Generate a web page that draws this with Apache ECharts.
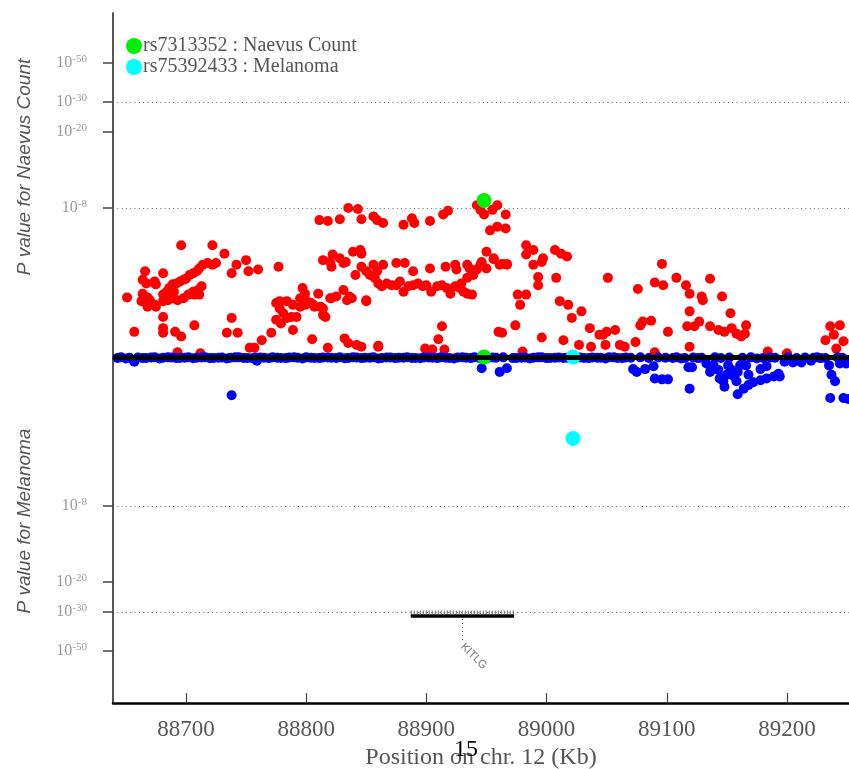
<!DOCTYPE html>
<html><head><meta charset="utf-8">
<script src="https://cdn.jsdelivr.net/npm/echarts@6/dist/echarts.min.js"></script>
<style>html,body{margin:0;padding:0;background:#fff}#c{width:849px;height:769px}</style>
</head><body><div id="c"></div>
<script>
// ---------- data ----------
const xTicks = [88700, 88800, 88900, 89000, 89100, 89200];
const yTickExponents = [8, 20, 30, 50];      // tick labels 10^-e
const gridExponents = [8, 30];               // dotted reference lines
const leadSnps = ['rs7313352', 'rs75392433'];
const leadTraits = ['Naevus Count', 'Melanoma'];
const leadPos = [88948, 89022];
const leadNaevusLogP = [8.4, 0.0];
const leadMelanomaLogP = [0.0, 4.37];
const geneNames = ['KITLG'];
const geneStart = [88887];
const geneEnd = [88973];

// [position Kb, -log10 P] for Naevus count (upper panel)
const naevusPoints = [
[88651,3.2],[88657,1.35],[88666,4.6],[88664,4.15],[88667,3.95],[88674,4.05],[88664,3.4],[88670,3.05],[88674,2.8],[88668,2.7],
[88663,3.0],[88673,4.0],[88675,3.9],[88668,3.2],[88675,2.7],[88681,4.5],[88681,2.15],[88681,1.55],[88681,1.3],[88691,1.35],
[88696,1.1],[88696,6.0],[88681,3.35],[88684,3.5],[88686,3.7],[88689,3.9],[88692,3.95],[88695,4.05],[88698,4.15],[88700,4.2],
[88703,4.4],[88706,4.5],[88709,4.6],[88711,4.75],[88714,4.95],[88718,5.05],[88722,4.95],[88725,5.05],[88681,3.0],[88685,3.05],
[88689,3.15],[88693,3.05],[88698,3.15],[88702,3.35],[88706,3.5],[88710,3.6],[88713,3.8],[88707,3.35],[88711,3.35],[88690,3.5],
[88722,6.0],[88732,5.55],[88707,1.7],[88738,4.5],[88742,4.95],[88750,5.2],[88752,4.6],[88760,4.7],[88738,2.1],[88734,1.3],
[88743,1.3],[88763,0.9],[88771,1.3],[88777,4.85],[88753,0.5],[88757,0.5],[88693,0.25],[88712,0.2],
[88775,2.9],[88778,2.6],[88781,2.35],[88784,2.1],[88788,2.15],[88789,1.45],[88795,2.7],[88797,3.7],[88799,3.4],[88800,3.05],
[88804,2.9],[88807,2.7],[88810,3.4],[88812,2.7],[88814,2.25],[88816,2.15],[88820,3.15],[88825,3.25],[88831,3.6],[88834,3.05],
[88836,3.25],[88850,3.05],[88778,3.0],[88784,3.0],[88789,2.8],[88795,3.15],[88806,2.8],[88814,2.6],[88775,2.0],[88779,1.8],
[88792,2.15],[88799,2.8],[88832,1.0],[88835,0.75],[88842,0.65],[88860,0.6],[88899,0.45],[88805,0.95],[88818,0.5],[88821,3.15],
[88838,3.15],
[88811,7.35],[88818,7.3],[88828,7.4],[88835,8.0],[88843,7.95],[88846,7.4],[88856,7.55],[88859,7.35],[88864,7.2],[88881,7.1],
[88888,7.45],[88890,7.2],[88903,7.3],[88914,7.65],[88918,7.85],
[88814,5.2],[88820,5.1],[88822,5.5],[88828,5.3],[88833,5.1],[88839,5.65],[88845,5.75],[88841,4.4],[88821,4.85],[88831,5.05],
[88846,5.55],[88846,4.85],[88850,4.6],[88856,4.95],[88859,4.6],[88864,4.95],
[88853,4.4],[88857,4.25],[88860,3.95],[88863,3.8],[88867,3.95],[88871,3.85],[88875,3.85],[88878,4.05],[88881,3.5],[88885,3.8],
[88889,3.85],[88893,3.95],[88897,3.8],[88900,3.85],[88904,3.5],[88909,3.8],[88913,3.85],[88917,3.7],[88920,3.4],[88924,3.8],
[88928,3.7],[88931,3.5],[88934,3.4],[88938,3.35],[88929,3.95],[88934,4.25],[88939,4.4],[88942,4.7],[88945,4.95],[88946,5.1],
[88950,5.65],[88956,5.3],[88961,4.95],[88967,4.95],[88950,4.75],
[88875,5.05],[88882,5.05],[88889,4.6],[88903,4.75],[88916,4.85],[88924,4.95],[88925,4.7],[88934,4.95],[88936,4.75],[88850,3.0],
[88913,1.65],[88910,0.95],[88905,0.4],[88915,0.4],[88860,0.55],[88846,0.55],
[88942,8.15],[88945,7.9],[88948,7.65],[88955,7.9],[88959,8.15],[88966,7.65],[88953,6.8],[88959,7.0],[88966,6.9],[88956,5.25],
[88963,5.0],[88967,5.0],
[88983,6.0],[88989,5.75],[88983,5.5],[88997,5.3],[88996,5.1],[88989,4.95],[89007,5.75],[89012,5.55],[89017,5.4],[88993,4.3],
[88993,3.85],[89008,4.25],[88976,3.35],[88983,3.35],[88978,2.8],[89011,3.0],[89018,2.8],[89029,2.45],[89021,2.1],[88974,1.7],
[88960,1.35],[88963,1.3],[88996,1.05],[89014,0.9],[89036,1.55],[89044,1.2],[89050,1.35],[89027,0.65],[89037,0.55],[89051,4.25],
[89047,1.2],[89057,1.45],[89049,0.65],[89061,0.65],[89065,0.55],[89074,0.8],[89076,3.65],[89090,4.0],[89097,3.85],[89096,5.0],
[89108,4.25],[89116,3.85],[89119,3.4],[89129,3.25],[89130,3.05],[89136,4.2],[89146,3.25],[89153,2.35],[89119,2.45],[89080,1.9],
[89087,1.95],[89078,1.7],[89101,1.35],[89117,1.65],[89123,1.65],[89127,1.9],[89119,0.55],[89136,1.65],[89143,1.45],[89148,1.35],
[89154,1.55],[89158,1.25],[89162,1.1],[89166,1.7],[89165,1.25],[89184,0.3],[89236,1.65],[89244,1.7],[89239,1.2],[89232,0.9],
[89247,0.85],[89241,0.45],[88980,0.3],[89090,0.25],[89200,0.2]
];

// [position Kb, -log10 P] for Melanoma (lower panel)
const melanomaPoints = [
[88643,0.05],[88650,0.08],[88657,0.25],[88664,0.06],[88671,0.03],[88678,0.08],[88685,0.02],[88692,0.06],[88699,0.04],[88706,0.07],
[88713,0.03],[88720,0.06],[88727,0.04],[88734,0.08],[88738,2.05],[88741,0.02],[88748,0.05],[88755,0.07],[88759,0.2],[88762,0.03],
[88769,0.07],[88776,0.04],[88783,0.06],[88790,0.02],[88797,0.08],[88804,0.04],[88811,0.06],[88818,0.03],[88825,0.05],[88832,0.07],
[88839,0.02],[88846,0.06],[88853,0.04],[88860,0.08],[88867,0.03],[88874,0.06],[88881,0.04],[88888,0.05],[88895,0.07],[88902,0.03],
[88909,0.06],[88916,0.04],[88923,0.08],[88930,0.02],[88937,0.06],[88946,0.6],[88951,0.05],[88961,0.8],[88967,0.6],[88972,0.06],
[88979,0.04],[88986,0.08],[88993,0.02],[89000,0.06],[89007,0.04],[89014,0.05],[89028,0.03],[89035,0.06],[89042,0.04],[89049,0.08],
[89056,0.02],[89063,0.06],[89072,0.65],[89075,0.8],[89082,0.65],[89089,0.5],[89090,1.15],[89096,1.2],[89101,1.2],[89105,0.05],
[89112,0.08],[89118,0.55],[89121,0.55],[89119,1.7],[89126,0.06],[89133,0.35],[89136,0.8],[89139,0.45],[89143,0.7],[89144,1.15],
[89147,1.3],[89148,1.6],[89150,0.95],[89151,0.45],[89154,0.7],[89156,1.05],[89158,1.3],[89159,0.8],[89161,0.45],[89166,0.45],
[89168,0.95],[89159,2.0],[89164,1.7],[89168,1.5],[89172,1.35],[89178,1.25],[89183,1.15],[89189,1.05],[89194,1.05],[89193,0.9],
[89183,0.5],[89178,0.65],[89175,0.08],[89198,0.25],[89205,0.3],[89212,0.3],[89220,0.2],[89228,0.06],[89235,0.45],[89237,0.95],
[89240,1.3],[89236,2.2],[89247,2.2],[89251,2.25],[89244,0.35],[89249,0.35],
[88646,0.02],[88653,0.04],[88660,0.03],[88667,0.05],[88674,0.01],[88681,0.04],[88688,0.03],[88695,0.05],[88702,0.02],[88709,0.04],
[88716,0.01],[88723,0.05],[88730,0.03],[88737,0.04],[88744,0.02],[88751,0.05],[88758,0.03],[88765,0.04],[88772,0.01],[88779,0.05],
[88786,0.03],[88793,0.04],[88800,0.02],[88807,0.05],[88814,0.03],[88821,0.04],[88828,0.01],[88835,0.05],[88842,0.03],[88849,0.04],
[88856,0.02],[88863,0.05],[88870,0.03],[88877,0.04],[88884,0.01],[88891,0.05],[88898,0.03],[88905,0.04],[88912,0.02],[88919,0.05],
[88926,0.03],[88933,0.04],[88940,0.01],[88944,0.05],[88955,0.03],[88958,0.04],[88964,0.02],[88975,0.05],[88982,0.03],[88989,0.04],
[88996,0.01],[89003,0.05],[89010,0.03],[89017,0.04],[89024,0.02],[89031,0.05],[89038,0.03],[89045,0.04],[89052,0.01],[89059,0.05],
[89066,0.03],[89070,0.04],[89078,0.02],[89085,0.05],[89093,0.03],[89099,0.04],[89108,0.01],[89115,0.05],[89122,0.03],[89129,0.04],
[89140,0.02],[89145,0.05],[89152,0.03],[89163,0.04],[89170,0.02],[89180,0.05],[89186,0.03],[89190,0.04],[89201,0.02],[89208,0.05],
[89215,0.03],[89222,0.04],[89225,0.02],[89232,0.05],[89242,0.03],[89246,0.04]
];

// ---------- scale (compressed -log10 P axis) ----------
const SCALE_S = [0, 8.5, 20, 30, 50];
const SCALE_Y = [0, 158.3, 225, 255, 294];
function toAxis(s) {
  for (let i = 1; i < SCALE_S.length; i++) {
    if (s <= SCALE_S[i]) {
      const t = (s - SCALE_S[i-1]) / (SCALE_S[i] - SCALE_S[i-1]);
      return SCALE_Y[i-1] + t * (SCALE_Y[i] - SCALE_Y[i-1]);
    }
  }
  return SCALE_Y[SCALE_Y.length-1];
}
const GENE_Y = -259;
const EXON_Y = -255.5;

const yTickVals = [];
yTickExponents.forEach(e => { yTickVals.push(toAxis(e)); yTickVals.push(-toAxis(e)); });

const chart = echarts.init(document.getElementById('c'), null, {renderer: 'canvas'});
const serif = 'Liberation Serif';
const sans = 'Liberation Sans';

const series = [
  { type: 'scatter', name: 'naevus', z: 2, symbolSize: 10, itemStyle: {color: '#ff0000', opacity: 1},
    data: naevusPoints.map(p => [p[0], toAxis(p[1])]), silent: true },
  { type: 'scatter', name: 'melanoma', z: 2, symbolSize: 10, itemStyle: {color: '#0000ff', opacity: 1},
    data: melanomaPoints.map(p => [p[0], -toAxis(p[1])]), silent: true },
  { type: 'line', name: 'grid', data: [], z: 1, silent: true,
    markLine: { silent: true, symbol: 'none', label: {show: false},
      lineStyle: {color: '#666', width: 1, type: [1, 3.3]},
      data: gridExponents.flatMap(e => [{yAxis: toAxis(e)}, {yAxis: -toAxis(e)}]) } },
  { type: 'line', name: 'base', data: [], z: 3, silent: true,
    markLine: { silent: true, symbol: 'none', label: {show: false},
      lineStyle: {color: '#000', width: 5, type: 'solid'},
      data: [{yAxis: 0}] } }
];
geneNames.forEach((g, i) => {
  series.push({ type: 'line', name: 'gene' + i, z: 3, silent: true, symbol: 'none',
    lineStyle: {color: '#000', width: 3.5}, data: [[geneStart[i], GENE_Y], [geneEnd[i], GENE_Y]] });
  series.push({ type: 'line', name: 'exon' + i, z: 3, silent: true, symbol: 'none',
    lineStyle: {color: '#666', width: 4, type: [1, 2]}, data: [[geneStart[i], EXON_Y], [geneEnd[i], EXON_Y]] });
});
const leadColors = ['#00ee00', '#00ffff'];
leadSnps.forEach((snp, i) => {
  series.push({ type: 'scatter', name: snp + ' : ' + leadTraits[i], z: 4, symbolSize: 15,
    itemStyle: {color: leadColors[i], opacity: 1}, silent: true,
    data: [[leadPos[i], toAxis(leadNaevusLogP[i])], [leadPos[i], -toAxis(leadMelanomaLogP[i])]] });
});

chart.setOption({
  animation: false,
  backgroundColor: '#fff',
  grid: {left: 113, right: 0, top: 13, bottom: 66, containLabel: false, outerBoundsMode: 'none'},
  legend: {
    data: leadSnps.map((s, i) => s + ' : ' + leadTraits[i]),
    orient: 'vertical', left: 121, top: 31, itemWidth: 16, itemHeight: 16, itemGap: 1,
    icon: 'circle', selectedMode: false,
    textStyle: {fontFamily: serif, fontSize: 20, color: '#555', padding: [0, 0, 0, -4]}
  },
  xAxis: {
    type: 'value', min: 88639.3, max: 89251.6,
    name: 'Position on chr. 12 (Kb)', nameLocation: 'middle', nameGap: 43,
    nameTextStyle: {fontFamily: serif, fontSize: 24, color: '#555'},
    axisLine: {show: true, onZero: false, lineStyle: {color: '#000', width: 2.5}},
    axisTick: {show: true, inside: true, length: 10, customValues: xTicks, lineStyle: {color: '#444', width: 1.2}},
    axisLabel: {customValues: xTicks, margin: 15, fontFamily: serif, fontSize: 23, color: '#555',
      formatter: v => String(Math.round(v))},
    splitLine: {show: false}
  },
  yAxis: {
    type: 'value', min: -346, max: 344,
    axisLine: {show: true, lineStyle: {color: '#555', width: 2}},
    axisTick: {show: true, length: 10, customValues: yTickVals, lineStyle: {color: '#444', width: 1.5}},
    axisLabel: {
      customValues: yTickVals, margin: 26,
      formatter: v => {
        const e = yTickExponents.find(x => Math.abs(toAxis(x) - Math.abs(v)) < 0.5);
        return '{b|10}{s|-' + e + '}';
      },
      rich: {
        b: {fontFamily: serif, fontSize: 16, color: '#9a9a9a', lineHeight: 18},
        s: {fontFamily: serif, fontSize: 11, color: '#9a9a9a', verticalAlign: 'top', lineHeight: 11, padding: [0, 0, 8, 0]}
      }
    },
    splitLine: {show: false}
  },
  series: series
});

// annotations
const graphics = [
  { type: 'text', x: 25, y: 167, rotation: Math.PI / 2, silent: true,
    style: {text: 'P value for Naevus Count', fontFamily: sans, fontStyle: 'italic', fontSize: 19, fill: '#555', align: 'center', verticalAlign: 'middle'} },
  { type: 'text', x: 25, y: 521, rotation: Math.PI / 2, silent: true,
    style: {text: 'P value for Melanoma', fontFamily: sans, fontStyle: 'italic', fontSize: 19, fill: '#555', align: 'center', verticalAlign: 'middle'} },
  { type: 'text', x: 466, y: 750, silent: true, z: 10,
    style: {text: '15', fontFamily: serif, fontSize: 24, fill: '#000', align: 'center', verticalAlign: 'middle'} }
];
geneNames.forEach((g, i) => {
  const mid = (geneStart[i] + geneEnd[i]) / 2;
  const p = chart.convertToPixel({gridIndex: 0}, [mid, GENE_Y]);
  graphics.push({ type: 'line', silent: true,
    shape: {x1: p[0], y1: p[1] + 3, x2: p[0], y2: p[1] + 27},
    style: {stroke: '#666', lineWidth: 1, lineDash: [1, 3]} });
  graphics.push({ type: 'text', x: p[0], y: p[1] + 29, rotation: -Math.PI / 4, silent: true,
    style: {text: g, fontFamily: sans, fontSize: 11, fill: '#777', align: 'left', verticalAlign: 'middle'} });
});
chart.setOption({graphic: graphics});
</script></body></html>
